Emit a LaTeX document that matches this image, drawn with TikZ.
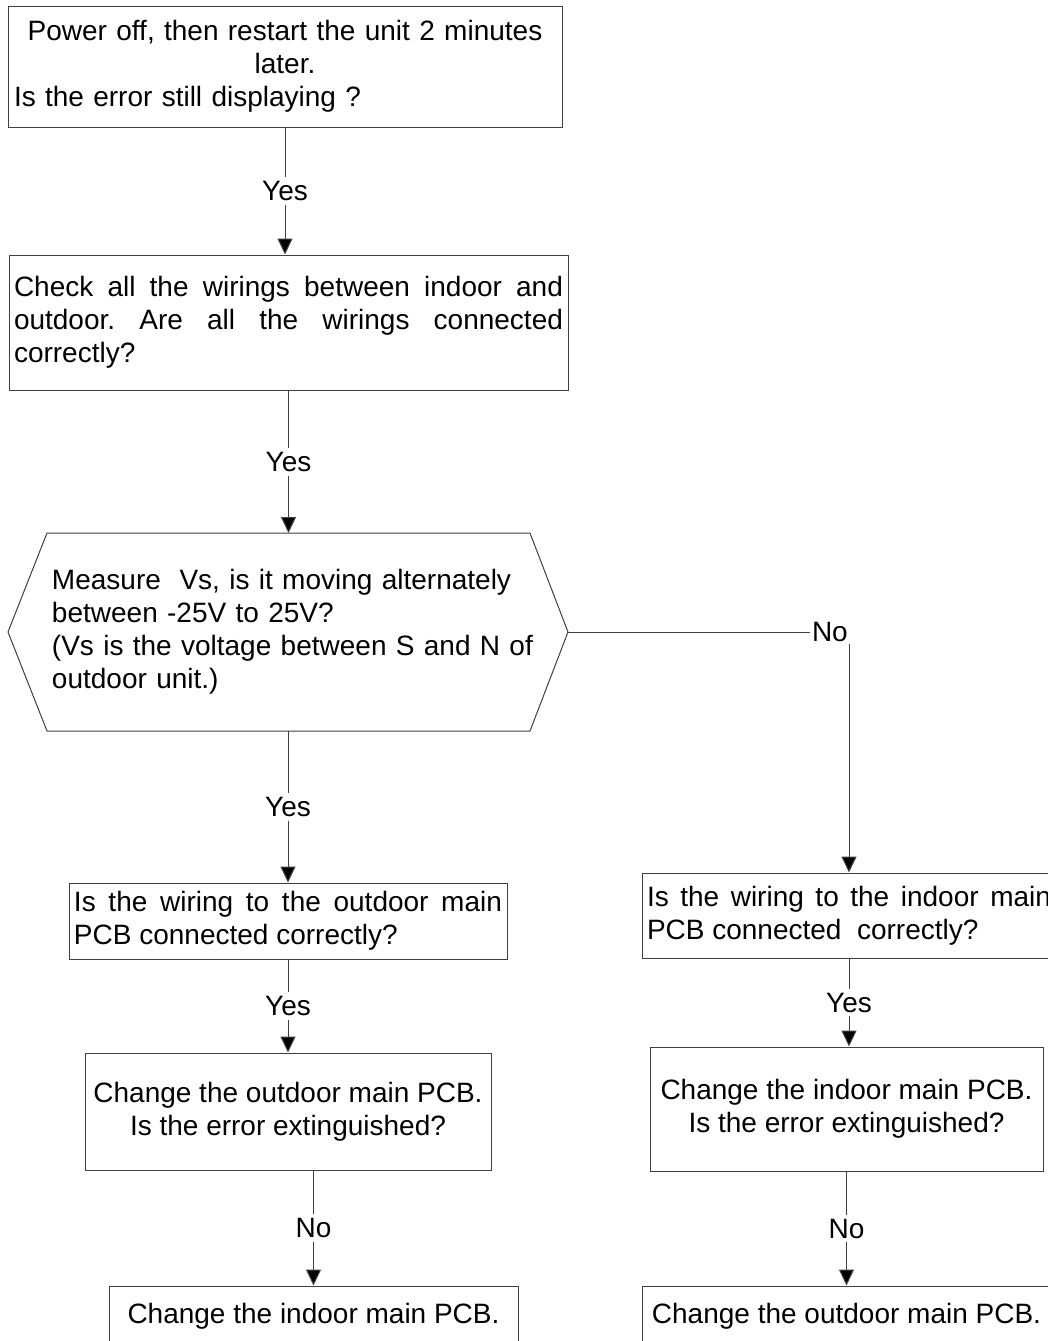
\documentclass[tikz,border=0pt]{standalone}
\usepackage{fontspec}
\setmainfont{Liberation Sans}
\usetikzlibrary{arrows.meta}
\definecolor{frame}{HTML}{404040}
\tikzset{
  txt/.style ={font=\fontsize{14}{16.5}\selectfont\frenchspacing},
  box/.style ={txt, rectangle, draw=frame, line width=0.5pt,
               inner xsep=2.5pt, inner ysep=2pt},
  % the hexagon is drawn round this text node afterwards
  hexa/.style={txt, rectangle, inner sep=0pt},
  flow/.style={draw=frame, line width=0.5pt,
               -{Triangle[length=8pt,width=7.5pt,fill=black]}},
  lbl/.style ={txt, fill=white, inner sep=2pt},
}
\begin{document}
\begin{tikzpicture}[x=0.5pt,y=-0.5pt]
\useasboundingbox (0,0) rectangle (1048,1341);
% left column
\node[box, minimum width=277pt, minimum height=60.5pt, text width=271pt,
      align=center] (restart) at (285,66.5)
  {Power off, then restart the unit 2 minutes\\ later.\\
   \makebox[\hsize][l]{Is the error still displaying ?}};
\node[box, minimum width=279.5pt, minimum height=67.5pt, text width=274.5pt,
      align=justify] (wiring) at (288.5,322.5)
  {Check all the wirings between indoor and\linebreak
   outdoor. Are all the wirings connected\linebreak correctly?};
\node[hexa, text width=260pt, align=left] (measure) at (312,632)
  {Measure \ Vs, is it moving alternately\\ between -25V to 25V?\\
   (Vs is the voltage between S and N of\\ outdoor unit.)};
\coordinate (hexW) at ([xshift=-152pt]measure.center);
\coordinate (hexE) at ([xshift=128pt]measure.center);
\coordinate (hexS) at ([xshift=-12pt,yshift=-49.5pt]measure.center);
\coordinate (hexN) at ([xshift=-12pt,yshift=49.5pt]measure.center);
\draw[frame, line width=0.5pt] (hexW)
  -- ([xshift=-132.5pt,yshift=49.5pt]measure.center)
  -- ([xshift=109pt,yshift=49.5pt]measure.center)
  -- (hexE)
  -- ([xshift=109pt,yshift=-49.5pt]measure.center)
  -- ([xshift=-132.5pt,yshift=-49.5pt]measure.center)
  -- cycle;
\node[box, minimum width=219pt, minimum height=38pt, text width=214pt,
      align=justify] (outwire) at (288,921)
  {Is the wiring to the outdoor main\linebreak PCB connected correctly?};
\node[box, minimum width=203pt, minimum height=58.5pt, align=center]
  (outpcb) at (288,1111.5)
  {Change the outdoor main PCB.\\ Is the error extinguished?};
\node[box, minimum width=204.5pt, minimum height=30pt, align=center]
  (inend) at (313.5,1316) {Change the indoor main PCB.};
% right column
\node[box, minimum width=207pt, minimum height=42.5pt, text width=202pt,
      align=justify] (inwire) at (849,915.5)
  {Is the wiring to the indoor main\linebreak PCB connected \ correctly?};
\node[box, minimum width=196.5pt, minimum height=62pt, align=center]
  (inpcb) at (846.5,1109)
  {Change the indoor main PCB.\\ Is the error extinguished?};
\node[box, minimum width=204.5pt, minimum height=30pt, align=center]
  (outend) at (846.5,1316) {Change the outdoor main PCB.};
% connectors
\draw[flow] (restart.south) -- node[lbl] (yes1) {Yes}
  (restart.south |- wiring.north);
\draw[flow] (wiring.south) -- node[lbl] (yes2) {Yes}
  (wiring.south |- hexN);
\draw[flow] (outwire.north |- hexS) -- node[lbl] (yes3) {Yes}
  (outwire.north);
\draw[flow] (outwire.south) -- node[lbl] (yes4) {Yes} (outpcb.north);
\draw[flow] (inend.north |- outpcb.south) -- node[lbl] (no2) {No}
  (inend.north);
\draw[flow] (hexE) -| node[lbl, inner sep=1pt, pos=0.466] (no1) {No}
  (inwire.north);
\draw[flow] (inwire.south) -- node[lbl] (yes5) {Yes}
  (inwire.south |- inpcb.north);
\draw[flow] (inpcb.south) -- node[lbl] (no3) {No} (outend.north);
\end{tikzpicture}
\end{document}
